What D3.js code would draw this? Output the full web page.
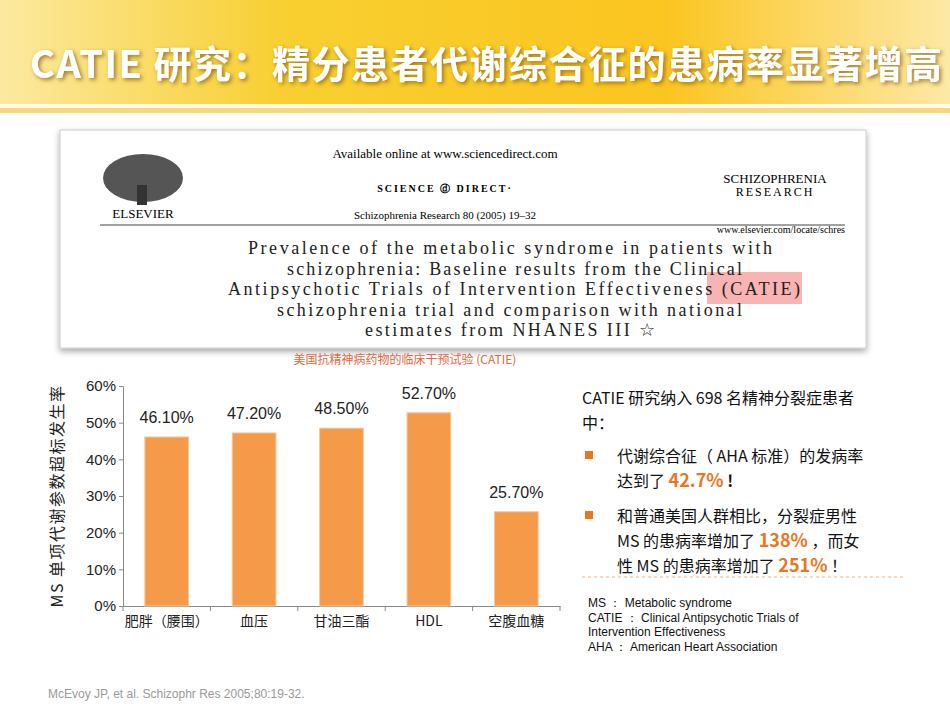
<!DOCTYPE html>
<html><head><meta charset="utf-8">
<script src="https://cdn.jsdelivr.net/npm/d3@7"></script>
<style>body{margin:0;background:#fff}svg{display:block}</style>
</head><body><div id="chart"></div>
<script>
var categories = ['肥胖（腰围）', '血压', '甘油三酯', 'HDL', '空腹血糖'];
var rates = [46.1, 47.2, 48.5, 52.7, 25.7];
var yTicks = [0, 10, 20, 30, 40, 50, 60];

var svg = d3.select('#chart').append('svg').attr('width', 950).attr('height', 713);
var cjk = '"Noto Sans CJK SC", Arial, sans-serif';

// header banner
var defs = svg.append('defs');
var g1 = defs.append('linearGradient').attr('id', 'hdr').attr('x1', 0).attr('x2', 1);
g1.append('stop').attr('offset', 0).attr('stop-color', '#fbe9a0');
g1.append('stop').attr('offset', 0.3).attr('stop-color', '#f8cf30');
g1.append('stop').attr('offset', 0.7).attr('stop-color', '#fbc520');
g1.append('stop').attr('offset', 1).attr('stop-color', '#fde9a6');
var sh = defs.append('filter').attr('id', 'sh');
sh.append('feDropShadow').attr('dx', 2).attr('dy', 2).attr('stdDeviation', 2).attr('flood-color', '#7a5000').attr('flood-opacity', 0.7);
var bs = defs.append('filter').attr('id', 'bs').attr('x', '-5%').attr('y', '-5%').attr('width', '110%').attr('height', '115%');
bs.append('feDropShadow').attr('dx', 0).attr('dy', 3).attr('stdDeviation', 3).attr('flood-color', '#000').attr('flood-opacity', 0.35);

svg.append('rect').attr('width', 950).attr('height', 104).attr('fill', 'url(#hdr)');
svg.append('rect').attr('y', 104).attr('width', 950).attr('height', 3).attr('fill', '#fffbe6');
svg.append('rect').attr('y', 108).attr('width', 950).attr('height', 5).attr('fill', '#f7c640').attr('opacity', 0.7);
svg.append('text').attr('x', 30).attr('y', 78).attr('font-family', cjk).attr('font-weight', 'bold')
    .attr('font-size', 38).attr('fill', '#fff').attr('filter', 'url(#sh)').attr('textLength', 912)
    .text('CATIE 研究：精分患者代谢综合征的患病率显著增高');

// article snapshot
var box = svg.append('g');
box.append('rect').attr('x', 60).attr('y', 130).attr('width', 806).attr('height', 218).attr('fill', '#fff')
    .attr('stroke', '#ccc').attr('filter', 'url(#bs)');
var serif = '"Liberation Serif", "DejaVu Serif", serif';
box.append('text').attr('x', 445).attr('y', 158).attr('text-anchor', 'middle').attr('font-family', serif).attr('font-size', 13).text('Available online at www.sciencedirect.com');
box.append('text').attr('x', 445).attr('y', 192).attr('text-anchor', 'middle').attr('font-family', serif).attr('font-size', 10).attr('font-weight', 'bold').attr('letter-spacing', 2).text('SCIENCE  ⓓ DIRECT·');
box.append('text').attr('x', 445).attr('y', 219).attr('text-anchor', 'middle').attr('font-family', serif).attr('font-size', 11).text('Schizophrenia Research 80 (2005) 19–32');
box.append('text').attr('x', 775).attr('y', 183).attr('text-anchor', 'middle').attr('font-family', serif).attr('font-size', 13).text('SCHIZOPHRENIA');
box.append('text').attr('x', 775).attr('y', 196).attr('text-anchor', 'middle').attr('font-family', serif).attr('font-size', 12).attr('letter-spacing', 2).text('RESEARCH');
box.append('text').attr('x', 845).attr('y', 233).attr('text-anchor', 'end').attr('font-family', serif).attr('font-size', 10).text('www.elsevier.com/locate/schres');
box.append('line').attr('x1', 100).attr('x2', 845).attr('y1', 225).attr('y2', 225).attr('stroke', '#444');
// tree logo
box.append('ellipse').attr('cx', 143).attr('cy', 178).attr('rx', 40).attr('ry', 24).attr('fill', '#555');
box.append('rect').attr('x', 137).attr('y', 185).attr('width', 10).attr('height', 20).attr('fill', '#333');
box.append('text').attr('x', 143).attr('y', 218).attr('text-anchor', 'middle').attr('font-family', serif).attr('font-size', 13).text('ELSEVIER');
box.append('rect').attr('x', 707).attr('y', 272).attr('width', 95).attr('height', 32).attr('fill', '#f6a0a0').attr('opacity', 0.8);
var titleLines = ['Prevalence of the metabolic syndrome in patients with',
    'schizophrenia: Baseline results from the Clinical',
    'Antipsychotic Trials of Intervention Effectiveness (CATIE)',
    'schizophrenia trial and comparison with national',
    'estimates from NHANES III ☆'];
var titleX = [248, 287, 228, 277, 365];
var titleW = [524, 455, 572, 465, 290];
titleLines.forEach(function(t, i) {
    box.append('text').attr('x', titleX[i]).attr('y', 254 + i * 20.5).attr('textLength', titleW[i])
        .attr('font-family', serif).attr('font-size', 18).attr('fill', '#222').text(t);
});
svg.append('text').attr('x', 405).attr('y', 364).attr('text-anchor', 'middle').attr('font-family', cjk)
    .attr('font-size', 12).attr('fill', '#e8663b').text('美国抗精神病药物的临床干预试验 (CATIE)');

// chart
var x = d3.scaleBand().domain(categories).range([123, 560]).paddingInner(0.5).paddingOuter(0.25);
var y = d3.scaleLinear().domain([0, 60]).range([606, 386]);
var chart = svg.append('g').attr('font-family', cjk);

var ya = chart.append('g').attr('transform', 'translate(123,0)')
    .call(d3.axisLeft(y).tickValues(yTicks).tickSize(4).tickFormat(function(d) { return d + '%'; }));
ya.selectAll('text').attr('font-family', 'Arial, "Liberation Sans", sans-serif').attr('font-size', 15).attr('fill', '#222');
ya.selectAll('line,path').attr('stroke', '#888');

var xa = chart.append('g').attr('transform', 'translate(0,606)')
    .call(d3.axisBottom(x).tickSize(0).tickPadding(10));
xa.selectAll('text').attr('font-family', cjk).attr('font-size', 14).attr('fill', '#222');
xa.select('path').attr('stroke', '#888');
xa.selectAll('.sep').data(d3.range(categories.length + 1)).enter().append('line')
    .attr('x1', function(i) { return 123 + i * (437 / 5); })
    .attr('x2', function(i) { return 123 + i * (437 / 5); })
    .attr('y1', 0).attr('y2', 5).attr('stroke', '#888');

chart.selectAll('.bar').data(rates).enter().append('rect')
    .attr('x', function(d, i) { return x(categories[i]); })
    .attr('y', function(d) { return y(d); })
    .attr('width', x.bandwidth())
    .attr('height', function(d) { return 606 - y(d); })
    .attr('fill', '#f59a48').attr('stroke', '#f0c9a0').attr('stroke-width', 1);

chart.selectAll('.lbl').data(rates).enter().append('text')
    .attr('x', function(d, i) { return x(categories[i]) + x.bandwidth() / 2; })
    .attr('y', function(d) { return y(d) - 14; })
    .attr('text-anchor', 'middle').attr('font-family', 'Arial, "Liberation Sans", sans-serif')
    .attr('font-size', 16).attr('fill', '#222')
    .text(function(d) { return d.toFixed(2) + '%'; });

chart.append('text').attr('transform', 'translate(63,496) rotate(-90)').attr('text-anchor', 'middle')
    .attr('font-size', 16).attr('fill', '#222').attr('letter-spacing', 1.5).text('MS 单项代谢参数超标发生率');

// right text block
var tx = svg.append('g').attr('font-family', cjk).attr('font-size', 16).attr('fill', '#111');
tx.append('text').attr('x', 582).attr('y', 404).text('CATIE 研究纳入 698 名精神分裂症患者');
tx.append('text').attr('x', 582).attr('y', 429).text('中：');
tx.append('rect').attr('x', 585).attr('y', 451).attr('width', 8).attr('height', 8).attr('fill', '#e87722');
tx.append('rect').attr('x', 585).attr('y', 511).attr('width', 8).attr('height', 8).attr('fill', '#e87722');
tx.append('text').attr('x', 617).attr('y', 462).text('代谢综合征（ AHA 标准）的发病率');
var t2 = tx.append('text').attr('x', 617).attr('y', 487);
t2.append('tspan').text('达到了 ');
t2.append('tspan').attr('fill', '#e87722').attr('font-weight', 'bold').attr('font-size', 18).text('42.7%');
t2.append('tspan').attr('font-weight', 'bold').text(' !');
tx.append('text').attr('x', 617).attr('y', 522).text('和普通美国人群相比，分裂症男性');
var t3 = tx.append('text').attr('x', 617).attr('y', 547);
t3.append('tspan').text('MS 的患病率增加了 ');
t3.append('tspan').attr('fill', '#e87722').attr('font-weight', 'bold').attr('font-size', 18).text('138%');
t3.append('tspan').text(' ，而女');
var t4 = tx.append('text').attr('x', 617).attr('y', 572);
t4.append('tspan').text('性 MS 的患病率增加了 ');
t4.append('tspan').attr('fill', '#e87722').attr('font-weight', 'bold').attr('font-size', 18).text('251%');
t4.append('tspan').text(' ！');
svg.append('line').attr('x1', 582).attr('x2', 905).attr('y1', 577).attr('y2', 577)
    .attr('stroke', '#f2b07a').attr('stroke-dasharray', '3,3');

var notes = ['MS ： Metabolic syndrome', 'CATIE ： Clinical Antipsychotic Trials of',
    'Intervention Effectiveness', 'AHA ： American Heart Association'];
notes.forEach(function(n, i) {
    svg.append('text').attr('x', 588).attr('y', 607 + i * 14.5).attr('font-family', 'Arial, "Liberation Sans", sans-serif')
        .attr('font-size', 12).attr('fill', '#111').text(n);
});
svg.append('text').attr('x', 48).attr('y', 698).attr('font-family', 'Arial, "Liberation Sans", sans-serif')
    .attr('font-size', 12).attr('fill', '#999').text('McEvoy JP, et al. Schizophr Res 2005;80:19-32.');
</script></body></html>
